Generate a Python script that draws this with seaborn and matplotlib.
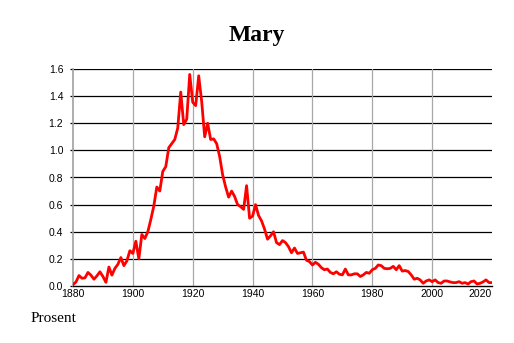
import matplotlib
matplotlib.use("Agg")
import matplotlib.pyplot as plt
import seaborn as sns
import pandas as pd
from matplotlib.ticker import MultipleLocator

years = list(range(1880, 2021))
percent = [
    # 1880-1889
    0.01, 0.03, 0.077, 0.057, 0.06, 0.10, 0.08, 0.05, 0.075, 0.105,
    # 1890-1899
    0.07, 0.027, 0.14, 0.08, 0.13, 0.16, 0.21, 0.15, 0.185, 0.26,
    # 1900-1909
    0.24, 0.33, 0.20, 0.38, 0.35, 0.40, 0.49, 0.59, 0.73, 0.70,
    # 1910-1919
    0.845, 0.88, 1.02, 1.05, 1.08, 1.165, 1.43, 1.19, 1.23, 1.56,
    # 1920-1929
    1.355, 1.33, 1.55, 1.36, 1.10, 1.20, 1.08, 1.085, 1.05, 0.955,
    # 1930-1939
    0.82, 0.73, 0.655, 0.70, 0.66, 0.60, 0.585, 0.565, 0.74, 0.50,
    # 1940-1949
    0.515, 0.60, 0.52, 0.48, 0.42, 0.345, 0.37, 0.40, 0.32, 0.305,
    # 1950-1959
    0.335, 0.32, 0.29, 0.245, 0.28, 0.24, 0.245, 0.25, 0.19, 0.18,
    # 1960-1969
    0.155, 0.175, 0.16, 0.135, 0.12, 0.125, 0.10, 0.09, 0.105, 0.087,
    # 1970-1979
    0.082, 0.125, 0.082, 0.082, 0.09, 0.09, 0.07, 0.082, 0.10, 0.094,
    # 1980-1989
    0.12, 0.13, 0.155, 0.15, 0.13, 0.127, 0.13, 0.145, 0.12, 0.15,
    # 1990-1999
    0.11, 0.114, 0.107, 0.082, 0.05, 0.057, 0.045, 0.02, 0.037, 0.045,
    # 2000-2009
    0.032, 0.045, 0.025, 0.02, 0.037, 0.037, 0.03, 0.025, 0.025, 0.032,
    # 2010-2020
    0.02, 0.025, 0.015, 0.032, 0.037, 0.015, 0.02, 0.03, 0.045, 0.025,
    0.025,
]
x_ticks = [1880, 1900, 1920, 1940, 1960, 1980, 2000, 2020]
y_ticks = [0.0, 0.2, 0.4, 0.6, 0.8, 1.0, 1.2, 1.4, 1.6]
title = "Mary"
ylabel_text = "Prosent"

df = pd.DataFrame({"year": years, "percent": percent})

sns.set_style("white")
plt.rcParams["font.family"] = ["Liberation Sans", "DejaVu Sans"]

fig = plt.figure(figsize=(5.14, 3.43), dpi=100)
ax = fig.add_axes([73 / 514, 1 - 286 / 343, (492 - 73) / 514, (286 - 69) / 343])

# grid lines
for yv in y_ticks[1:]:
    ax.axhline(yv, color="black", lw=0.9, zorder=1)
for xv in x_ticks[1:-1]:
    ax.axvline(xv, color="#a8a8a8", lw=0.9, zorder=1)

sns.lineplot(data=df, x="year", y="percent", color="#ff0000", lw=2.0,
             ax=ax, zorder=3)

ax.set_xlim(1880, 2020)
ax.set_ylim(0, 1.6)
ax.set_xticks(x_ticks)
ax.set_xticklabels([str(v) for v in x_ticks])
ax.set_yticks(y_ticks)
ax.set_yticklabels([f"{v:.1f}" for v in y_ticks])
ax.xaxis.set_minor_locator(MultipleLocator(5))
ax.set_xlabel("")
ax.set_ylabel("")

ax.tick_params(axis="y", which="major", length=2, width=0.9, color="black",
               pad=5, labelsize=7.5, labelcolor="black")
ax.tick_params(axis="x", which="major", length=0, pad=2, labelsize=7.5,
               labelcolor="black")
ax.tick_params(axis="x", which="minor", direction="in", length=3, width=0.8,
               color="#555555")
ax.tick_params(left=True, bottom=True)

labels = ax.get_xticklabels()
labels[-1].set_horizontalalignment("right")

for s in ["top", "right"]:
    ax.spines[s].set_visible(False)
ax.spines["left"].set_color("#a0a0a0")
ax.spines["left"].set_linewidth(1.2)
ax.spines["bottom"].set_color("black")
ax.spines["bottom"].set_linewidth(1.0)
ax.spines["bottom"].set_zorder(4)

fig.text(0.5, 1 - 35 / 343, title, ha="center", va="center", color="black",
         fontsize=17, fontweight="bold", family="Liberation Serif")
fig.text(31 / 514, 1 - 322 / 343, ylabel_text, ha="left", va="baseline",
         color="black", fontsize=11, family="Liberation Serif")

fig.savefig("out.png", dpi=100, facecolor="white")
